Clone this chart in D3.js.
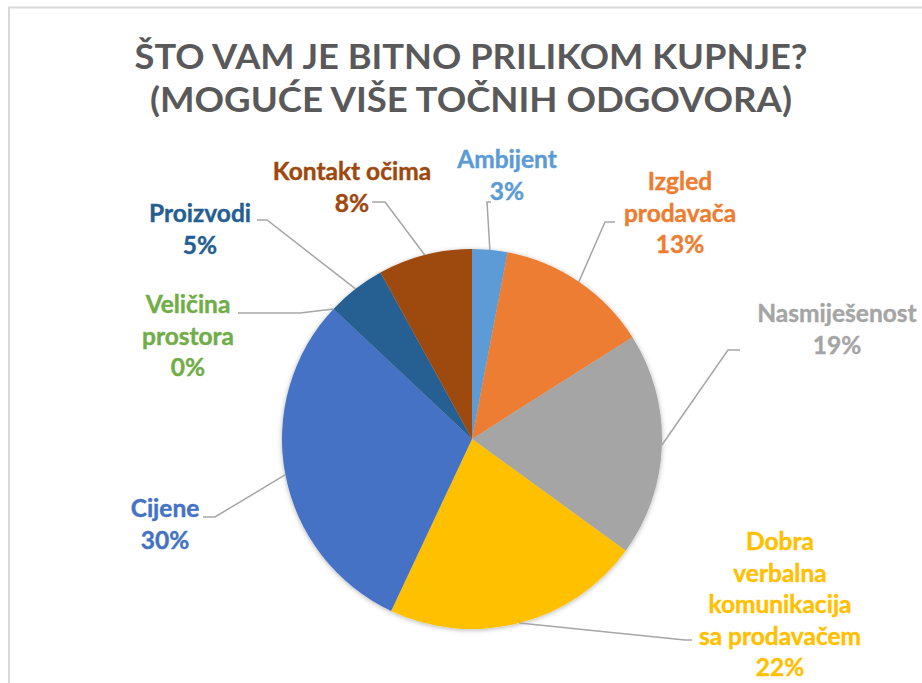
<!DOCTYPE html>
<html>
<head>
<meta charset="utf-8">
<script src="https://cdn.jsdelivr.net/npm/d3@7"></script>
<style>
  body { margin: 0; background: #fff; }
  svg { display: block; font-family: Lato, 'Open Sans', sans-serif; }
</style>
</head>
<body>
<svg id="chart"></svg>
<script>
// data
let categories = ['Ambijent', 'Izgled prodavača', 'Nasmiješenost', 'Dobra verbalna komunikacija sa prodavačem',
                  'Cijene', 'Veličina prostora', 'Proizvodi', 'Kontakt očima']
let values = [3, 13, 19, 22, 30, 0, 5, 8]
let labelLines = [
    ['Ambijent'],
    ['Izgled', 'prodavača'],
    ['Nasmiješenost'],
    ['Dobra', 'verbalna', 'komunikacija', 'sa prodavačem'],
    ['Cijene'],
    ['Veličina', 'prostora'],
    ['Proizvodi'],
    ['Kontakt očima']
]
let colors = ['#5B9BD5', '#ED7D31', '#A5A5A5', '#FFC000', '#4472C4', '#70AD47', '#255E91', '#9E480E']
let titleLines = ['ŠTO VAM JE BITNO PRILIKOM KUPNJE?', '(MOGUĆE VIŠE TOČNIH ODGOVORA)']
let titleWidths = [673, 642]

// label placement (label centre x, first baseline y, leader elbow x/y, leader end x)
let labelLayout = [
    {x: 507, y: 168, ex: 487, ey: 202, tx: 491},
    {x: 680, y: 190, ex: 605, ey: 222, tx: 615},
    {x: 837, y: 322, ex: 728, ey: 350, tx: 740},
    {x: 780, y: 550, ex: 685, ey: 640, tx: 692},
    {x: 165, y: 517, ex: 215, ey: 517, tx: 203},
    {x: 188, y: 313, ex: 300, ey: 313, tx: 238},
    {x: 200, y: 222, ex: 267, ey: 220, tx: 257},
    {x: 352, y: 180, ex: 385, ey: 202, tx: 372}
]

let width = 922
let height = 683
let cx = 472
let cy = 439
let radius = 190
let lineGap = 31.5

let svg = d3.select('#chart')
    .attr('width', width)
    .attr('height', height)

// frame
svg.append('rect')
    .attr('x', 9).attr('y', 7.5)
    .attr('width', 1000).attr('height', 1000)
    .attr('fill', 'none')
    .attr('stroke', '#d9d9d9')
    .attr('stroke-width', 2)

// title
svg.append('g')
    .selectAll('text')
    .data(titleLines)
    .enter()
    .append('text')
    .attr('x', 471)
    .attr('y', (d, i) => 69 + i * 43)
    .attr('text-anchor', 'middle')
    .attr('fill', '#595959')
    .attr('font-size', 35)
    .attr('font-weight', 'bold')
    .attr('textLength', (d, i) => titleWidths[i])
    .attr('lengthAdjust', 'spacingAndGlyphs')
    .text(d => d)

let defs = svg.append('defs')
let shadow = defs.append('filter').attr('id', 'shadow')
    .attr('x', '-10%').attr('y', '-10%').attr('width', '120%').attr('height', '120%')
shadow.append('feDropShadow')
    .attr('dx', 0).attr('dy', 1)
    .attr('stdDeviation', 2.5)
    .attr('flood-color', '#000')
    .attr('flood-opacity', 0.3)

let pie = d3.pie().sort(null).value(d => d)
let arcs = pie(values)
let arc = d3.arc().innerRadius(0).outerRadius(radius)

let g = svg.append('g')
    .attr('transform', 'translate(' + cx + ',' + cy + ')')

g.append('g')
    .attr('filter', 'url(#shadow)')
    .selectAll('path')
    .data(arcs)
    .enter()
    .append('path')
    .attr('d', arc)
    .attr('fill', (d, i) => colors[i])

// leader lines
let total = d3.sum(values)
let leaders = svg.append('g')
arcs.forEach((a, i) => {
    let mid = (a.startAngle + a.endAngle) / 2
    let sx = cx + radius * Math.sin(mid)
    let sy = cy - radius * Math.cos(mid)
    let L = labelLayout[i]
    leaders.append('polyline')
        .attr('points', [[sx, sy], [L.ex, L.ey], [L.tx, L.ey]].map(p => p.join(',')).join(' '))
        .attr('fill', 'none')
        .attr('stroke', '#A6A6A6')
        .attr('stroke-width', 1.5)
})

// labels
let labels = svg.append('g')
arcs.forEach((a, i) => {
    let L = labelLayout[i]
    let lines = labelLines[i].concat([Math.round(values[i] / total * 100) + '%'])
    let t = labels.append('text')
        .attr('text-anchor', 'middle')
        .attr('fill', colors[i])
        .attr('font-size', 24.5)
        .attr('font-weight', 'bold')
        .attr('stroke', colors[i])
        .attr('stroke-width', 0.4)
    lines.forEach((s, j) => {
        t.append('tspan')
            .attr('x', L.x)
            .attr('y', L.y + j * lineGap)
            .text(s)
    })
})
</script>
</body>
</html>
